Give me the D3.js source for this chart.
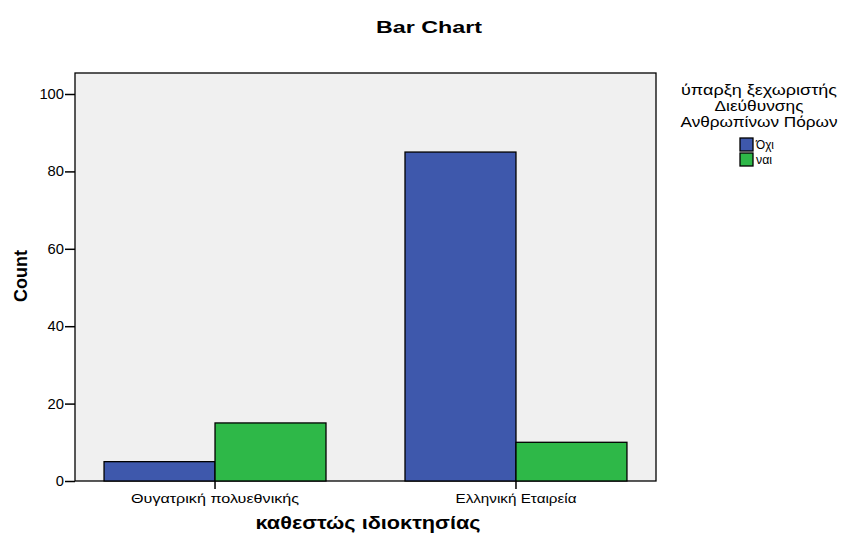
<!DOCTYPE html>
<html><head><meta charset="utf-8">
<script src="https://cdn.jsdelivr.net/npm/d3@7"></script>
<style>body{margin:0;background:#fff;} text{font-family:"Liberation Sans",Arial,sans-serif;}</style>
</head><body>
<svg id="c" width="844" height="534"></svg>
<script>
const categories = ["Θυγατρική πολυεθνικής", "Ελληνική Εταιρεία"];
const seriesNames = ["Όχι", "ναι"];
const valuesOxi = [5, 85];
const valuesNai = [15, 10];
const yTicks = [0, 20, 40, 60, 80, 100];
const colors = ["#3e58ac", "#2eb848"];

const svg = d3.select("#c");
const L = 75, R = 656, T = 73, B = 481;
const y = d3.scaleLinear().domain([0, 100 * (B - T) / (B - 94)]).range([B, T]);
const x = d3.scaleBand().domain(categories).range([L, R]).paddingInner(0.2625).paddingOuter(0.0965);
const xs = d3.scaleBand().domain(seriesNames).range([0, x.bandwidth()]);

svg.append("rect").attr("x", L).attr("y", T).attr("width", R - L).attr("height", B - T)
  .attr("fill", "#f0f0f0").attr("stroke", "#000").attr("stroke-width", 1.3);

const series = [valuesOxi, valuesNai];
series.forEach((vals, si) => {
  svg.append("g").selectAll("rect").data(categories).join("rect")
    .attr("x", c => x(c) + xs(seriesNames[si]))
    .attr("width", xs.bandwidth())
    .attr("y", (c, i) => y(vals[i]))
    .attr("height", (c, i) => B - y(vals[i]))
    .attr("fill", colors[si]).attr("stroke", "#000").attr("stroke-width", 1.3);
});

const ya = svg.append("g").attr("transform", `translate(${L},0)`)
  .call(d3.axisLeft(y).tickValues(yTicks).tickSize(10).tickPadding(1).tickFormat(d3.format("d")));
ya.select(".domain").remove();
ya.selectAll("line").attr("stroke", "#000").attr("stroke-width", 1.5);
ya.selectAll("text").attr("font-size", 14).attr("fill", "#000")
  .attr("textLength", d => String(d).length * 8.2).attr("lengthAdjust", "spacingAndGlyphs");

const xLabLen = [168, 121];
const xa = svg.append("g").attr("transform", `translate(0,${B})`)
  .call(d3.axisBottom(x).tickSize(8).tickPadding(5));
xa.select(".domain").remove();
xa.selectAll("line").attr("stroke", "#000").attr("stroke-width", 1.5);
xa.selectAll("text").attr("font-size", 13).attr("fill", "#000")
  .attr("textLength", (d, i) => xLabLen[i]).attr("lengthAdjust", "spacingAndGlyphs");

svg.append("text").attr("x", 429).attr("y", 33).attr("text-anchor", "middle")
  .attr("font-size", 16).attr("font-weight", "bold")
  .attr("textLength", 106).attr("lengthAdjust", "spacingAndGlyphs").text("Bar Chart");
svg.append("text").attr("transform", "translate(27,276) rotate(-90)").attr("text-anchor", "middle")
  .attr("font-size", 18).attr("font-weight", "bold")
  .attr("textLength", 52).attr("lengthAdjust", "spacingAndGlyphs").text("Count");
svg.append("text").attr("x", 368).attr("y", 529).attr("text-anchor", "middle")
  .attr("font-size", 19).attr("font-weight", "bold")
  .attr("textLength", 225).attr("lengthAdjust", "spacingAndGlyphs").text("καθεστώς ιδιοκτησίας");

const legTitle = ["ύπαρξη ξεχωριστής", "Διεύθυνσης", "Ανθρωπίνων Πόρων"];
const legLen = [156, 89, 157];
svg.append("g").selectAll("text").data(legTitle).join("text")
  .attr("x", 759).attr("y", (d, i) => 95 + i * 16).attr("text-anchor", "middle")
  .attr("font-size", 15).attr("fill", "#000")
  .attr("textLength", (d, i) => legLen[i]).attr("lengthAdjust", "spacingAndGlyphs").text(d => d);
const legLabLen = [18, 16];
const lg = svg.append("g").selectAll("g").data(seriesNames).join("g")
  .attr("transform", (d, i) => `translate(740,${138 + i * 15})`);
lg.append("rect").attr("width", 13).attr("height", 13).attr("fill", (d, i) => colors[i])
  .attr("stroke", "#000").attr("stroke-width", 1.3);
lg.append("text").attr("x", 16).attr("y", 10.5).attr("font-size", 13.5)
  .attr("textLength", (d, i) => legLabLen[i]).attr("lengthAdjust", "spacingAndGlyphs").text(d => d);
</script>
</body></html>
